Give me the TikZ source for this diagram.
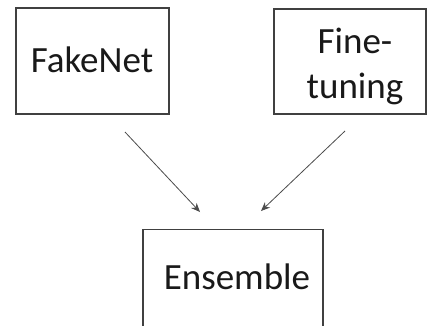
\documentclass[tikz,border=0pt]{standalone}
\usepackage{fontspec}
\setmainfont{Carlito}
\usetikzlibrary{arrows.meta}
\begin{document}
\begin{tikzpicture}[x=1pt,y=-1pt,
  boxline/.style={draw=black!75, line width=1.1pt},
  txt/.style={inner sep=0pt, font=\fontsize{37}{45}\selectfont, text=black!90, align=center},
  conn/.style={draw=black!70, line width=0.8pt, -{Stealth[length=9pt,width=7.5pt]}}]
\useasboundingbox (0,0) rectangle (427,325);
\clip (0,0) rectangle (427,325);
\fill[white] (0,0) rectangle (427,325);
\node[boxline, minimum width=153pt, minimum height=106pt, inner sep=0pt] (fake) at (92.5,61) {};
\node[boxline, minimum width=152pt, minimum height=105pt, inner sep=0pt] (fine) at (350,61.5) {};
\node[boxline, minimum width=180pt, minimum height=140pt, inner sep=0pt, anchor=north] (ens) at (233,229) {};
\node[txt, anchor=base] (faketext) at (92,72) {FakeNet};
\node[txt, anchor=base] (finetext) at (355,98) {Fine-\\tuning};
\node[txt, anchor=base] (enstext) at (237,289) {Ensemble};
\coordinate (a1) at (125,132);
\coordinate (a2) at (200,212);
\coordinate (b1) at (345,131);
\coordinate (b2) at (261,211);
\draw[conn] (a1) -- (a2);
\draw[conn] (b1) -- (b2);
\end{tikzpicture}
\end{document}
